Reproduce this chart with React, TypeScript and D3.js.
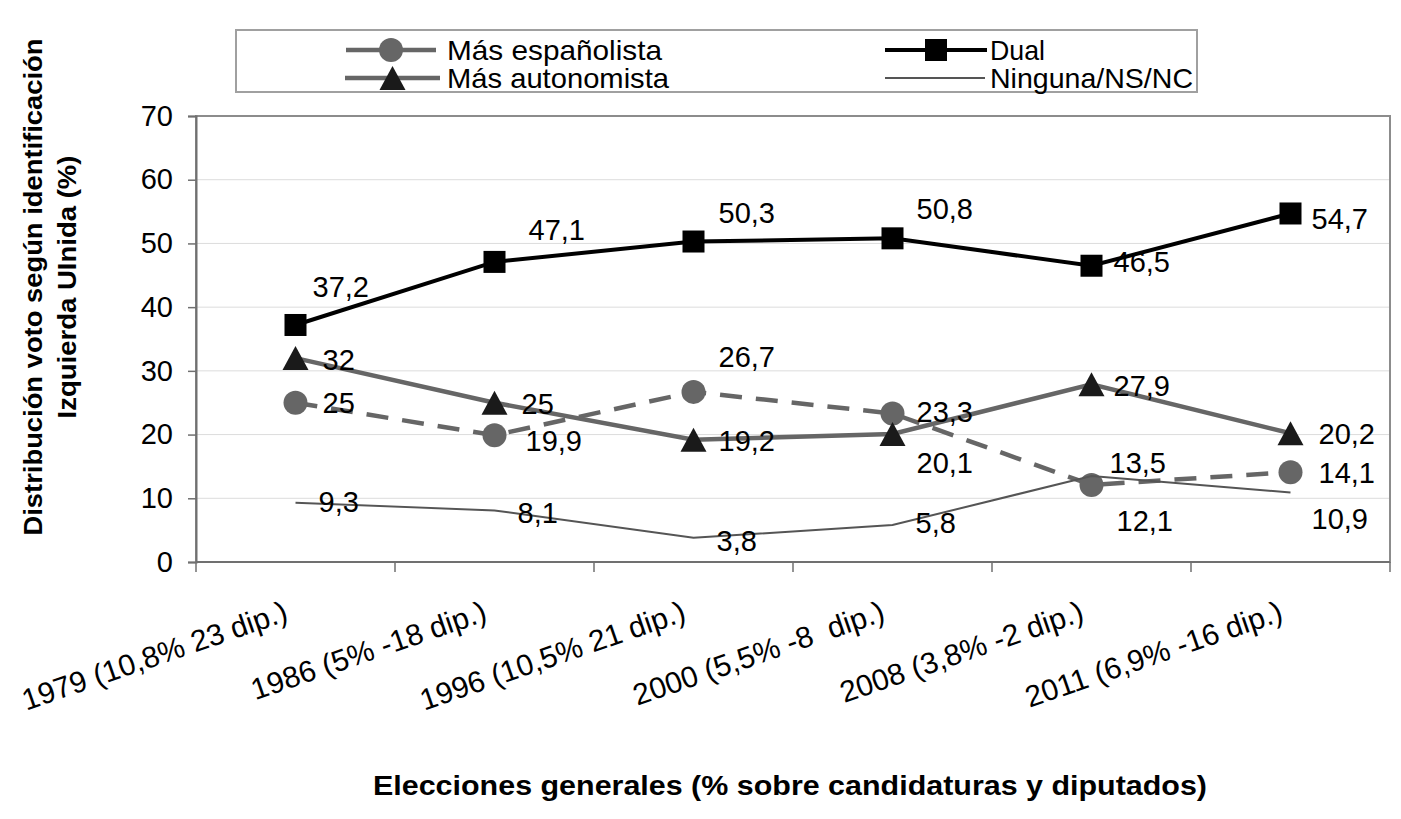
import * as d3 from "d3";
import { useEffect, useRef } from "react";

// Categories (elections) and the four series, values in %
const categories = [
  "1979 (10,8% 23 dip.)",
  "1986 (5% -18 dip.)",
  "1996 (10,5% 21 dip.)",
  "2000 (5,5% -8  dip.)",
  "2008 (3,8% -2 dip.)",
  "2011 (6,9% -16 dip.)",
];
const espanolista = [25, 19.9, 26.7, 23.3, 12.1, 14.1];
const dual = [37.2, 47.1, 50.3, 50.8, 46.5, 54.7];
const autonomista = [32, 25, 19.2, 20.1, 27.9, 20.2];
const ninguna = [9.3, 8.1, 3.8, 5.8, 13.5, 10.9];
const yTicks = [0, 10, 20, 30, 40, 50, 60, 70];

// hand-placed label offsets (px from point: left edge, vertical centre)
const espLabelOff = [[27, 0], [31, 5], [25, -35], [24, -2], [25, 36], [28, 0]];
const dualLabelOff = [[17, -38], [34, -32], [25, -29], [24, -30], [22, -4], [21, 5]];
const autLabelOff = [[27, 1], [27, 1], [25, 1], [24, 29], [22, 1], [28, 0]];
const ningLabelOff = [[23, -1], [23, 2], [23, 3], [23, -2], [18, -13], [21, 26]];

const W = 1401;
const H = 819;
const FONT = "Arial, 'Liberation Sans', Helvetica, sans-serif";

type Marker = "circle" | "square" | "triangle" | "none";

function drawMarker(
  g: d3.Selection<SVGGElement, unknown, null, undefined>,
  kind: Marker,
  cx: number,
  cy: number,
  fill: string,
) {
  if (kind === "circle") {
    g.append("circle").attr("cx", cx).attr("cy", cy).attr("r", 12).attr("fill", fill);
  } else if (kind === "square") {
    g.append("rect")
      .attr("x", cx - 11)
      .attr("y", cy - 11)
      .attr("width", 22)
      .attr("height", 22)
      .attr("fill", fill);
  } else if (kind === "triangle") {
    g.append("path")
      .attr("d", `M${cx},${cy - 12}L${cx + 13},${cy + 12}L${cx - 13},${cy + 12}Z`)
      .attr("fill", fill);
  }
}

export default function App() {
  const svgRef = useRef<SVGSVGElement>(null);

  useEffect(() => {
    document.body.style.margin = "0";
    if (!svgRef.current) return;
    const svg = d3.select(svgRef.current);
    svg.selectAll("*").remove();

    const m = { left: 196, right: 1390, top: 116, bottom: 562 };
    const x = d3.scaleBand<string>().domain(categories).range([m.left, m.right]);
    const cx = (i: number) => (x(categories[i]) ?? 0) + x.bandwidth() / 2;
    const y = d3.scaleLinear().domain([0, 70]).range([m.bottom, m.top]);

    svg.append("rect").attr("width", W).attr("height", H).attr("fill", "#fff");

    // gridlines
    svg
      .append("g")
      .selectAll("line")
      .data(yTicks.filter((t) => t > 0 && t < 70))
      .enter()
      .append("line")
      .attr("x1", m.left)
      .attr("x2", m.right)
      .attr("y1", (d) => y(d))
      .attr("y2", (d) => y(d))
      .attr("stroke", "#dcdcdc")
      .attr("stroke-width", 1);

    // plot frame
    svg
      .append("rect")
      .attr("x", m.left)
      .attr("y", m.top)
      .attr("width", m.right - m.left)
      .attr("height", m.bottom - m.top)
      .attr("fill", "none")
      .attr("stroke", "#8c8c8c")
      .attr("stroke-width", 2);

    // y axis
    const yAxis = svg
      .append("g")
      .attr("transform", `translate(${m.left},0)`)
      .call(d3.axisLeft(y).tickValues(yTicks).tickSize(8).tickPadding(15).tickFormat(d3.format("d")));
    yAxis.select(".domain").attr("stroke", "#707070").attr("stroke-width", 2);
    yAxis.selectAll(".tick line").attr("stroke", "#707070").attr("stroke-width", 1.5);
    yAxis
      .selectAll(".tick text")
      .attr("font-size", 29)
      .attr("font-family", FONT)
      .attr("fill", "#000");

    // x axis line + ticks at band edges
    svg
      .append("line")
      .attr("x1", m.left)
      .attr("x2", m.right)
      .attr("y1", m.bottom)
      .attr("y2", m.bottom)
      .attr("stroke", "#707070")
      .attr("stroke-width", 2);
    const edges = categories.map((c) => x(c) ?? 0).concat([m.right]);
    svg
      .append("g")
      .selectAll("line")
      .data(edges)
      .enter()
      .append("line")
      .attr("x1", (d) => d)
      .attr("x2", (d) => d)
      .attr("y1", m.bottom)
      .attr("y2", m.bottom + 10)
      .attr("stroke", "#707070")
      .attr("stroke-width", 1.5);

    svg
      .append("g")
      .selectAll("text")
      .data(categories)
      .enter()
      .append("text")
      .attr("transform", (_d, i) => `translate(${cx(i) - 6},620) rotate(-19)`)
      .attr("text-anchor", "end")
      .attr("font-size", 30)
      .attr("font-family", FONT)
      .style("white-space", "pre")
      .text((d) => d);

    const line = d3
      .line<number>()
      .x((_d, i) => cx(i))
      .y((d) => y(d));

    const series: Array<{
      values: number[];
      off: number[][];
      stroke: string;
      width: number;
      dash?: string;
      marker: Marker;
      markerFill: string;
    }> = [
      { values: espanolista, off: espLabelOff, stroke: "#666", width: 4.5, dash: "22,14", marker: "circle", markerFill: "#666" },
      { values: dual, off: dualLabelOff, stroke: "#000", width: 4, marker: "square", markerFill: "#000" },
      { values: autonomista, off: autLabelOff, stroke: "#666", width: 4.5, marker: "triangle", markerFill: "#1a1a1a" },
      { values: ninguna, off: ningLabelOff, stroke: "#555", width: 2, marker: "none", markerFill: "#555" },
    ];

    for (const s of series) {
      const g = svg.append("g");
      g.append("path")
        .attr("d", line(s.values) ?? "")
        .attr("fill", "none")
        .attr("stroke", s.stroke)
        .attr("stroke-width", s.width)
        .attr("stroke-dasharray", s.dash ?? null);
      s.values.forEach((v, i) => drawMarker(g, s.marker, cx(i), y(v), s.markerFill));
    }

    // data labels
    for (const s of series) {
      svg
        .append("g")
        .selectAll("text")
        .data(s.values)
        .enter()
        .append("text")
        .attr("x", (_d, i) => cx(i) + s.off[i][0])
        .attr("y", (d, i) => y(d) + s.off[i][1])
        .attr("dy", "0.36em")
        .attr("font-size", 29)
        .attr("font-family", FONT)
        .attr("fill", "#000")
        .text((d) => String(d).replace(".", ","));
    }

    // legend
    const lg = svg.append("g");
    lg.append("rect")
      .attr("x", 236)
      .attr("y", 30)
      .attr("width", 961)
      .attr("height", 62)
      .attr("fill", "#fff")
      .attr("stroke", "#a0a0a0")
      .attr("stroke-width", 2);
    const legendItems: Array<{ name: string; s: (typeof series)[number]; x0: number; x1: number; tx: number; ty: number; tl: number }> = [
      { name: "Más españolista", s: series[0], x0: 346, x1: 436, tx: 447, ty: 50, tl: 215 },
      { name: "Dual", s: series[1], x0: 885, x1: 987, tx: 990, ty: 50, tl: 55 },
      { name: "Más autonomista", s: series[2], x0: 345, x1: 440, tx: 447, ty: 78, tl: 222 },
      { name: "Ninguna/NS/NC", s: series[3], x0: 885, x1: 985, tx: 990, ty: 78, tl: 203 },
    ];
    for (const it of legendItems) {
      lg.append("line")
        .attr("x1", it.x0)
        .attr("x2", it.x1)
        .attr("y1", it.ty)
        .attr("y2", it.ty)
        .attr("stroke", it.s.stroke)
        .attr("stroke-width", it.s.width);
      drawMarker(lg, it.s.marker, (it.x0 + it.x1) / 2, it.ty, it.s.markerFill);
      lg.append("text")
        .attr("x", it.tx)
        .attr("y", it.ty)
        .attr("dy", "0.36em")
        .attr("font-size", 28)
        .attr("font-family", FONT)
        .attr("textLength", it.tl)
        .attr("lengthAdjust", "spacingAndGlyphs")
        .text(it.name);
    }

    // axis titles
    svg
      .append("text")
      .attr("x", 790)
      .attr("y", 785)
      .attr("dy", "0.36em")
      .attr("text-anchor", "middle")
      .attr("font-size", 27)
      .attr("font-weight", "bold")
      .attr("font-family", FONT)
      .attr("textLength", 834)
      .attr("lengthAdjust", "spacingAndGlyphs")
      .text("Elecciones generales (% sobre candidaturas y diputados)");
    svg
      .append("text")
      .attr("transform", "translate(42,287) rotate(-90)")
      .attr("text-anchor", "middle")
      .attr("font-size", 26)
      .attr("font-weight", "bold")
      .attr("font-family", FONT)
      .attr("textLength", 497)
      .attr("lengthAdjust", "spacingAndGlyphs")
      .text("Distribución voto según identificación");
    svg
      .append("text")
      .attr("transform", "translate(76,287) rotate(-90)")
      .attr("text-anchor", "middle")
      .attr("font-size", 26)
      .attr("font-weight", "bold")
      .attr("font-family", FONT)
      .attr("textLength", 263)
      .attr("lengthAdjust", "spacingAndGlyphs")
      .text("Izquierda UInida (%)");
  }, []);

  return <svg ref={svgRef} width={W} height={H} style={{ display: "block" }} />;
}
